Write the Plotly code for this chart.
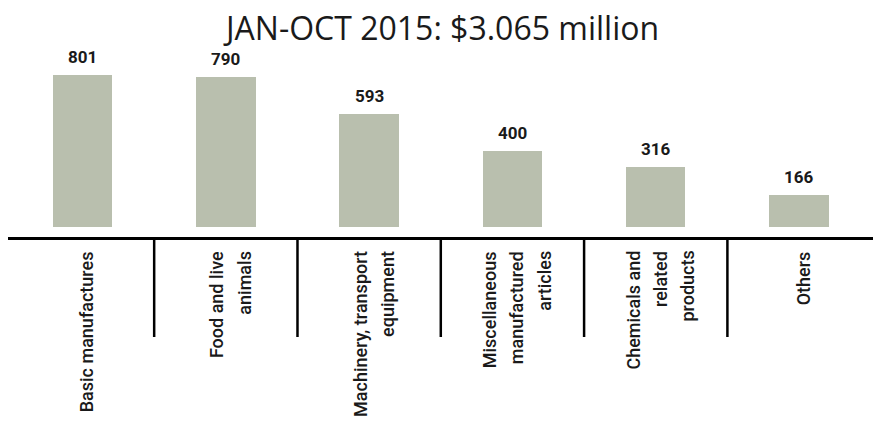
import plotly.graph_objects as go

# Export categories (each entry is the list of lines of its label)
category_lines = [
    ["Basic manufactures"],
    ["Food and live", "animals"],
    ["Machinery, transport", "equipment"],
    ["Miscellaneous", "manufactured", "articles"],
    ["Chemicals and", "related", "products"],
    ["Others"],
]
values = [801, 790, 593, 400, 316, 166]
title_text = "JAN-OCT 2015: $3.065 million"

bar_color = "#b9bfae"
ink = "#1a1a1a"

x_idx = list(range(len(values)))

fig = go.Figure()
fig.add_trace(go.Bar(
    x=x_idx,
    y=values,
    width=0.415,
    marker=dict(color=bar_color, line=dict(width=0)),
    hoverinfo="skip",
    showlegend=False,
))

annotations = []
# value labels above each bar
for i, v in enumerate(values):
    annotations.append(dict(
        x=i, y=v, xref="x", yref="y",
        text=f"<b>{v}</b>", showarrow=False,
        xanchor="center", yanchor="middle", yshift=18,
        font=dict(family="Roboto", size=17, color=ink),
    ))

# rotated, top-aligned category labels below the axis line
line_gap = 27.0 / 143.3  # spacing between label lines, in category units
for i, lines in enumerate(category_lines):
    n = len(lines)
    for k, txt in enumerate(lines):
        annotations.append(dict(
            x=i + (k - (n - 1) / 2) * line_gap + 0.03, y=0,
            xref="x", yref="paper",
            text=txt, showarrow=False, textangle=-90,
            xanchor="center", yanchor="top", yshift=-12,
            font=dict(family="Roboto", size=18, color=ink, weight=500),
        ))

# chart title
annotations.append(dict(
    x=0.5, y=1, xref="paper", yref="paper",
    text=title_text, showarrow=False,
    xanchor="center", yanchor="top", yshift=-4,
    font=dict(family="Open Sans", size=32, color=ink),
))

# vertical separators between categories, hanging from the axis line
shapes = []
for i in range(len(values) - 1):
    shapes.append(dict(
        type="line", xref="x", yref="paper",
        ysizemode="pixel", yanchor=0,
        x0=i + 0.5, x1=i + 0.5, y0=0, y1=-100,
        line=dict(color="black", width=2.5),
    ))

fig.update_layout(
    width=873, height=423,
    margin=dict(l=8, r=0, t=0, b=186),
    paper_bgcolor="white", plot_bgcolor="white",
    bargap=0,
    xaxis=dict(
        range=[-0.52, 5.516], showticklabels=False, ticks="",
        showgrid=False, zeroline=False,
        showline=True, linecolor="black", linewidth=3,
        fixedrange=True,
    ),
    yaxis=dict(
        range=[-52.7, 1196], visible=False, showgrid=False,
        zeroline=False, fixedrange=True,
    ),
    annotations=annotations,
    shapes=shapes,
)

fig.write_html("out.html", config={"displayModeBar": False})
